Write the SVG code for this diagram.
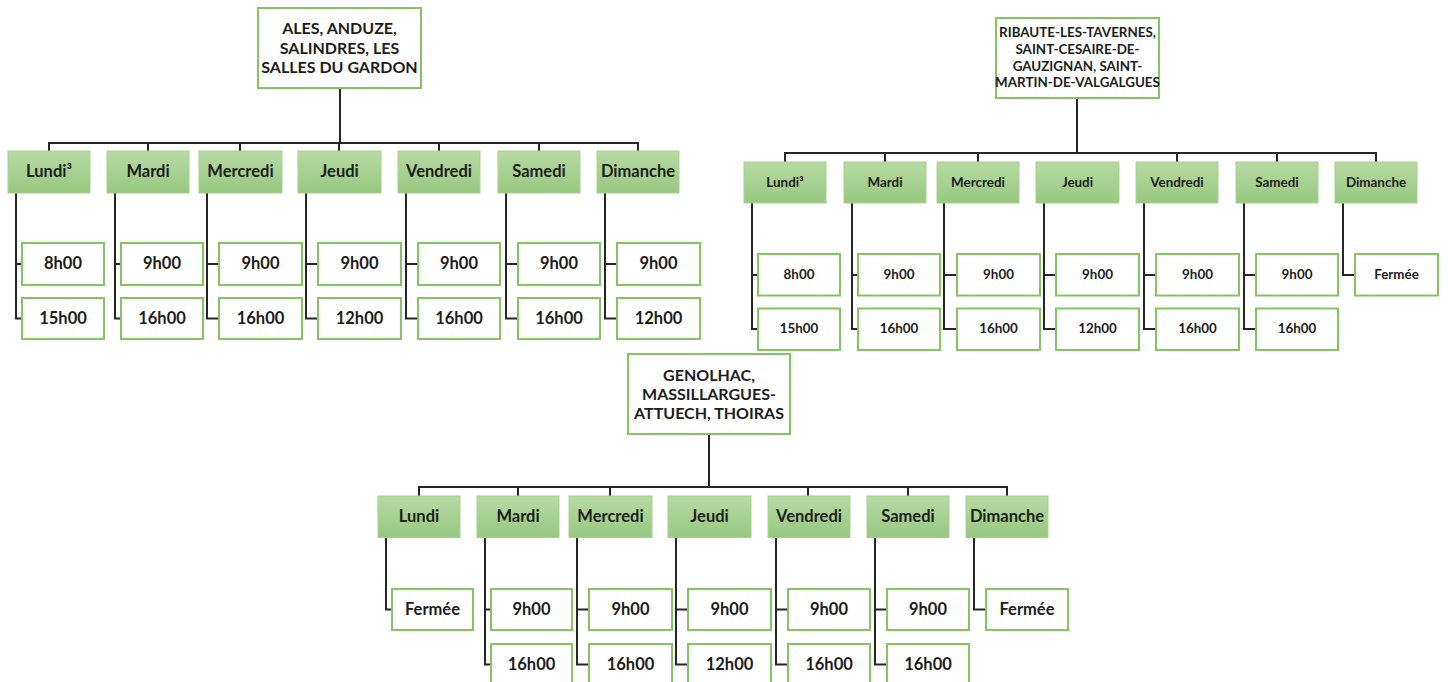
<svg xmlns="http://www.w3.org/2000/svg" width="1448" height="682" viewBox="0 0 1448 682">
<defs>
<linearGradient id="g" x1="0" y1="0" x2="0" y2="1">
<stop offset="0" stop-color="#b7daa3"/>
<stop offset="1" stop-color="#97c880"/>
</linearGradient>
</defs>
<style>
text{font-family:Lato,"Liberation Sans",sans-serif;font-weight:bold;fill:#1c1c1c;text-anchor:middle;dominant-baseline:central;transform:translateY(-1px)}
.big text{font-size:16.5px}
.big .root text{font-size:16px}
.small text{font-size:13.4px}
.root rect,.t rect{fill:#fff;stroke:#85c463;stroke-width:2}
.day rect{fill:url(#g);stroke:#a6d18e;stroke-width:1}
.conn path{fill:none;stroke:#262626;stroke-width:2}
</style>
<rect width="1448" height="682" fill="#fff"/>

<g class="conn" id="connectors">
<!-- chart 1 -->
<path d="M340 88V143M49 151V143H638V151M148 143V151M240 143V151M339 143V151M439 143V151M539 143V151"/>
<path d="M16 193V318.5H22M16 264H22"/>
<path d="M115 193V318.5H121M115 264H121"/>
<path d="M207 193V318.5H219M207 264H219"/>
<path d="M306 193V318.5H318M306 264H318"/>
<path d="M406 193V318.5H418M406 264H418"/>
<path d="M506 193V318.5H518M506 264H518"/>
<path d="M605 193V318.5H617M605 264H617"/>
<!-- chart 2 -->
<path d="M1077 98V153M785 162V153H1376V162M885 153V162M978 153V162M1177 153V162M1277 153V162"/>
<path d="M752 203V329H758M752 275H758"/>
<path d="M852 203V329H858M852 275H858"/>
<path d="M944 203V329H957M944 275H957"/>
<path d="M1044 203V329H1056M1044 275H1056"/>
<path d="M1144 203V329H1156M1144 275H1156"/>
<path d="M1244 203V329H1256M1244 275H1256"/>
<path d="M1343 203V275H1355"/>
<!-- chart 3 -->
<path d="M709 434V487M419 496V487H1007V496M518 487V496M610 487V496M808 487V496M908 487V496"/>
<path d="M386 537V609.5H392"/>
<path d="M485 537V664.5H491M485 609.5H491"/>
<path d="M577 537V664.5H589M577 609.5H589"/>
<path d="M676 537V664.5H688M676 609.5H688"/>
<path d="M776 537V664.5H788M776 609.5H788"/>
<path d="M875 537V664.5H887M875 609.5H887"/>
<path d="M974 537V609.5H986"/>
</g>

<!-- ================= CHART 1 ================= -->
<g class="big">
<g class="root" id="root1"><rect x="258" y="8" width="163" height="80"/>
<text x="339.5" y="28">ALES, ANDUZE,</text><text x="339.5" y="48">SALINDRES, LES</text><text x="339.5" y="67">SALLES DU GARDON</text></g>
<g class="day" id="c1-lundi"><rect x="8" y="151" width="82" height="42"/><text x="49" y="172">Lundi³</text></g>
<g class="day" id="c1-mardi"><rect x="107" y="151" width="82" height="42"/><text x="148" y="172">Mardi</text></g>
<g class="day" id="c1-mercredi"><rect x="199" y="151" width="83" height="42"/><text x="240.5" y="172">Mercredi</text></g>
<g class="day" id="c1-jeudi"><rect x="298" y="151" width="83" height="42"/><text x="339.5" y="172">Jeudi</text></g>
<g class="day" id="c1-vendredi"><rect x="398" y="151" width="82" height="42"/><text x="439" y="172">Vendredi</text></g>
<g class="day" id="c1-samedi"><rect x="498" y="151" width="82" height="42"/><text x="539" y="172">Samedi</text></g>
<g class="day" id="c1-dimanche"><rect x="597" y="151" width="82" height="42"/><text x="638" y="172">Dimanche</text></g>

<g class="t" id="c1-lundi-1"><rect x="22" y="243" width="82" height="42"/><text x="63" y="264">8h00</text></g>
<g class="t" id="c1-lundi-2"><rect x="22" y="298" width="82" height="41"/><text x="63" y="318.5">15h00</text></g>
<g class="t" id="c1-mardi-1"><rect x="121" y="243" width="82" height="42"/><text x="162" y="264">9h00</text></g>
<g class="t" id="c1-mardi-2"><rect x="121" y="298" width="82" height="41"/><text x="162" y="318.5">16h00</text></g>
<g class="t" id="c1-mercredi-1"><rect x="219" y="243" width="83" height="42"/><text x="260.5" y="264">9h00</text></g>
<g class="t" id="c1-mercredi-2"><rect x="219" y="298" width="83" height="41"/><text x="260.5" y="318.5">16h00</text></g>
<g class="t" id="c1-jeudi-1"><rect x="318" y="243" width="83" height="42"/><text x="359.5" y="264">9h00</text></g>
<g class="t" id="c1-jeudi-2"><rect x="318" y="298" width="83" height="41"/><text x="359.5" y="318.5">12h00</text></g>
<g class="t" id="c1-vendredi-1"><rect x="418" y="243" width="82" height="42"/><text x="459" y="264">9h00</text></g>
<g class="t" id="c1-vendredi-2"><rect x="418" y="298" width="82" height="41"/><text x="459" y="318.5">16h00</text></g>
<g class="t" id="c1-samedi-1"><rect x="518" y="243" width="82" height="42"/><text x="559" y="264">9h00</text></g>
<g class="t" id="c1-samedi-2"><rect x="518" y="298" width="82" height="41"/><text x="559" y="318.5">16h00</text></g>
<g class="t" id="c1-dimanche-1"><rect x="617" y="243" width="83" height="42"/><text x="658.5" y="264">9h00</text></g>
<g class="t" id="c1-dimanche-2"><rect x="617" y="298" width="83" height="41"/><text x="658.5" y="318.5">12h00</text></g>
</g>

<!-- ================= CHART 2 ================= -->
<g class="small">
<g class="root" id="root2"><rect x="996" y="18" width="163" height="80"/>
<text x="1077.5" y="33">RIBAUTE-LES-TAVERNES,</text><text x="1077.5" y="50">SAINT-CESAIRE-DE-</text><text x="1077.5" y="67">GAUZIGNAN, SAINT-</text><text x="1077.5" y="83">MARTIN-DE-VALGALGUES</text></g>
<g class="day" id="c2-lundi"><rect x="744" y="162" width="82" height="41"/><text x="785" y="182.5">Lundi³</text></g>
<g class="day" id="c2-mardi"><rect x="844" y="162" width="82" height="41"/><text x="885" y="182.5">Mardi</text></g>
<g class="day" id="c2-mercredi"><rect x="937" y="162" width="82" height="41"/><text x="978" y="182.5">Mercredi</text></g>
<g class="day" id="c2-jeudi"><rect x="1036" y="162" width="83" height="41"/><text x="1077.5" y="182.5">Jeudi</text></g>
<g class="day" id="c2-vendredi"><rect x="1136" y="162" width="82" height="41"/><text x="1177" y="182.5">Vendredi</text></g>
<g class="day" id="c2-samedi"><rect x="1236" y="162" width="82" height="41"/><text x="1277" y="182.5">Samedi</text></g>
<g class="day" id="c2-dimanche"><rect x="1335" y="162" width="82" height="41"/><text x="1376" y="182.5">Dimanche</text></g>

<g class="t" id="c2-lundi-1"><rect x="758" y="254" width="82" height="41.5"/><text x="799" y="275">8h00</text></g>
<g class="t" id="c2-lundi-2"><rect x="758" y="308.5" width="82" height="41.5"/><text x="799" y="329">15h00</text></g>
<g class="t" id="c2-mardi-1"><rect x="858" y="254" width="82" height="41.5"/><text x="899" y="275">9h00</text></g>
<g class="t" id="c2-mardi-2"><rect x="858" y="308.5" width="82" height="41.5"/><text x="899" y="329">16h00</text></g>
<g class="t" id="c2-mercredi-1"><rect x="957" y="254" width="83" height="41.5"/><text x="998.5" y="275">9h00</text></g>
<g class="t" id="c2-mercredi-2"><rect x="957" y="308.5" width="83" height="41.5"/><text x="998.5" y="329">16h00</text></g>
<g class="t" id="c2-jeudi-1"><rect x="1056" y="254" width="83" height="41.5"/><text x="1097.5" y="275">9h00</text></g>
<g class="t" id="c2-jeudi-2"><rect x="1056" y="308.5" width="83" height="41.5"/><text x="1097.5" y="329">12h00</text></g>
<g class="t" id="c2-vendredi-1"><rect x="1156" y="254" width="83" height="41.5"/><text x="1197.5" y="275">9h00</text></g>
<g class="t" id="c2-vendredi-2"><rect x="1156" y="308.5" width="83" height="41.5"/><text x="1197.5" y="329">16h00</text></g>
<g class="t" id="c2-samedi-1"><rect x="1256" y="254" width="82" height="41.5"/><text x="1297" y="275">9h00</text></g>
<g class="t" id="c2-samedi-2"><rect x="1256" y="308.5" width="82" height="41.5"/><text x="1297" y="329">16h00</text></g>
<g class="t" id="c2-dimanche-1"><rect x="1355" y="254" width="83" height="41.5"/><text x="1396.5" y="275">Fermée</text></g>
</g>

<!-- ================= CHART 3 ================= -->
<g class="big">
<g class="root" id="root3"><rect x="628" y="354" width="162" height="80"/>
<text x="709" y="375">GENOLHAC,</text><text x="709" y="394">MASSILLARGUES-</text><text x="709" y="413">ATTUECH, THOIRAS</text></g>
<g class="day" id="c3-lundi"><rect x="378" y="496" width="82" height="41.5"/><text x="419" y="517">Lundi</text></g>
<g class="day" id="c3-mardi"><rect x="477" y="496" width="82" height="41.5"/><text x="518" y="517">Mardi</text></g>
<g class="day" id="c3-mercredi"><rect x="569" y="496" width="83" height="41.5"/><text x="610.5" y="517">Mercredi</text></g>
<g class="day" id="c3-jeudi"><rect x="668" y="496" width="83" height="41.5"/><text x="709.5" y="517">Jeudi</text></g>
<g class="day" id="c3-vendredi"><rect x="768" y="496" width="82" height="41.5"/><text x="809" y="517">Vendredi</text></g>
<g class="day" id="c3-samedi"><rect x="867" y="496" width="82" height="41.5"/><text x="908" y="517">Samedi</text></g>
<g class="day" id="c3-dimanche"><rect x="966" y="496" width="82" height="41.5"/><text x="1007" y="517">Dimanche</text></g>

<g class="t" id="c3-lundi-1"><rect x="392" y="589" width="81" height="41"/><text x="432.5" y="609.5">Fermée</text></g>
<g class="t" id="c3-mardi-1"><rect x="491" y="589" width="81" height="41"/><text x="531.5" y="609.5">9h00</text></g>
<g class="t" id="c3-mardi-2"><rect x="491" y="644" width="81" height="41"/><text x="531.5" y="664.5">16h00</text></g>
<g class="t" id="c3-mercredi-1"><rect x="589" y="589" width="83" height="41"/><text x="630.5" y="609.5">9h00</text></g>
<g class="t" id="c3-mercredi-2"><rect x="589" y="644" width="83" height="41"/><text x="630.5" y="664.5">16h00</text></g>
<g class="t" id="c3-jeudi-1"><rect x="688" y="589" width="83" height="41"/><text x="729.5" y="609.5">9h00</text></g>
<g class="t" id="c3-jeudi-2"><rect x="688" y="644" width="83" height="41"/><text x="729.5" y="664.5">12h00</text></g>
<g class="t" id="c3-vendredi-1"><rect x="788" y="589" width="82" height="41"/><text x="829" y="609.5">9h00</text></g>
<g class="t" id="c3-vendredi-2"><rect x="788" y="644" width="82" height="41"/><text x="829" y="664.5">16h00</text></g>
<g class="t" id="c3-samedi-1"><rect x="887" y="589" width="82" height="41"/><text x="928" y="609.5">9h00</text></g>
<g class="t" id="c3-samedi-2"><rect x="887" y="644" width="82" height="41"/><text x="928" y="664.5">16h00</text></g>
<g class="t" id="c3-dimanche-1"><rect x="986" y="589" width="82" height="41"/><text x="1027" y="609.5">Fermée</text></g>
</g>
</svg>
